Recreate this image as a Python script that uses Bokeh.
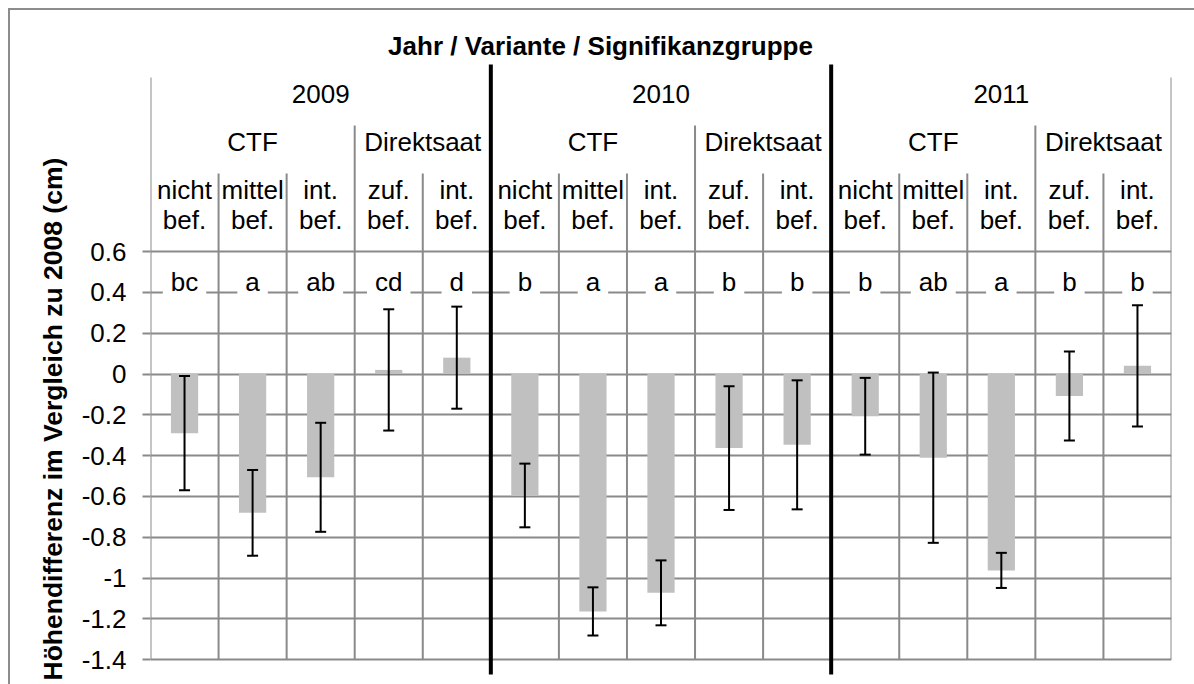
from bokeh.plotting import figure
from bokeh.models import Range1d, FixedTicker, Whisker, ColumnDataSource, TeeHead, PrintfTickFormatter, Title
from bokeh.core.properties import value
from bokeh.embed import file_html
from bokeh.resources import INLINE

# ---------------- data ----------------
years = ["2009", "2010", "2011"]
variants = ["CTF", "Direktsaat"]
variant_sizes = [3, 2]
sub_line1 = ["nicht", "mittel", "int.", "zuf.", "int.",
             "nicht", "mittel", "int.", "zuf.", "int.",
             "nicht", "mittel", "int.", "zuf.", "int."]
sub_line2 = ["bef."] * 15
means = [-0.29, -0.68, -0.506, 0.02, 0.08,
         -0.595, -1.163, -1.072, -0.363, -0.347,
         -0.207, -0.41, -0.962, -0.108, 0.04]
errors = [0.28, 0.21, 0.267, 0.297, 0.25,
          0.156, 0.118, 0.159, 0.303, 0.316,
          0.188, 0.417, 0.086, 0.218, 0.297]
letters = ["bc", "a", "ab", "cd", "d",
           "b", "a", "a", "b", "b",
           "b", "ab", "a", "b", "b"]
y_ticks = [-1.4, -1.2, -1.0, -0.8, -0.6, -0.4, -0.2, 0.0, 0.2, 0.4, 0.6]
title_text = "Jahr / Variante / Signifikanzgruppe"
y_label = "Höhendifferenz im Vergleich zu 2008 (cm)"

# ---------------- layout constants ----------------
W, H = 1194, 684
FRAME_LEFT, FRAME_RIGHT = 150, 1171        # page px
Y_ZERO, PX_PER_UNIT = 373.5, 204.15        # page px of value 0, px per unit
FONT = "Liberation Sans"
FS = "26px"
GRID = "#8a8a8a"
BORDER = "#8c8c8c"

def yv(page_y):
    return (Y_ZERO - page_y) / PX_PER_UNIT

n = len(means)
cat_w = (FRAME_RIGHT - FRAME_LEFT) / n

def xv(page_x):
    return (page_x - FRAME_LEFT) / cat_w

border_css = {
    "background-image": f"linear-gradient({BORDER},{BORDER}), linear-gradient({BORDER},{BORDER})",
    "background-size": "100% 2px, 2px 100%",
    "background-position": "8px 8px, 8px 8px",
    "background-repeat": "no-repeat",
}

p = figure(width=W, height=H, output_backend="svg", toolbar_location=None,
           x_range=Range1d(0, n), y_range=Range1d(yv(H), yv(0)),
           x_axis_location=None, y_axis_location="left",
           min_border_left=FRAME_LEFT, min_border_right=W - FRAME_RIGHT,
           min_border_top=0, min_border_bottom=0,
           styles=border_css)
p.background_fill_alpha = 0
p.border_fill_alpha = 0
p.outline_line_color = None

ticker = FixedTicker(ticks=y_ticks, minor_ticks=[])
p.yaxis.ticker = ticker
p.yaxis.formatter = PrintfTickFormatter(format="%g")
p.yaxis.axis_line_color = None
p.yaxis.major_tick_line_color = GRID
p.yaxis.major_tick_line_width = 2
p.yaxis.major_tick_out = 8
p.yaxis.major_tick_in = 0
p.yaxis.minor_tick_line_color = None
p.yaxis.major_label_standoff = 16
p.yaxis.major_label_text_font = FONT
p.yaxis.major_label_text_font_size = FS
p.yaxis.major_label_text_color = "black"
p.xgrid.visible = False
p.ygrid.ticker = ticker
p.ygrid.grid_line_color = GRID
p.ygrid.grid_line_width = 2

y_bottom = y_ticks[0]

# ---------------- boundary lines ----------------
year_size = sum(variant_sizes)
year_bounds, thick_bounds, group_bounds = [], [], []
for yi in range(len(years) + 1):
    b = yi * year_size
    if yi in (0, len(years)):
        year_bounds.append(b)
    else:
        thick_bounds.append(b)
for yi in range(len(years)):
    acc = yi * year_size
    for vs in variant_sizes[:-1]:
        acc += vs
        group_bounds.append(acc)
all_b = set(year_bounds + thick_bounds + group_bounds)
sub_bounds = [i for i in range(n + 1) if i not in all_b]

p.segment(x0=sub_bounds, x1=sub_bounds, y0=[yv(173)] * len(sub_bounds), y1=[y_bottom] * len(sub_bounds),
          line_color=GRID, line_width=2)
p.segment(x0=group_bounds, x1=group_bounds, y0=[yv(125)] * len(group_bounds), y1=[y_bottom] * len(group_bounds),
          line_color=GRID, line_width=2)
p.segment(x0=year_bounds, x1=year_bounds, y0=[yv(77)] * len(year_bounds), y1=[y_bottom] * len(year_bounds),
          line_color=GRID, line_width=2)

# ---------------- bars & error bars ----------------
xs = [i + 0.5 for i in range(n)]
src = ColumnDataSource(dict(x=xs, top=means,
                            upper=[m + e for m, e in zip(means, errors)],
                            lower=[m - e for m, e in zip(means, errors)]))
p.vbar(x="x", top="top", bottom=0, width=0.4, source=src, fill_color="#c0c0c0", line_color=None)
wh = Whisker(source=src, base="x", upper="upper", lower="lower", line_color="black", line_width=2,
             upper_head=TeeHead(size=11, line_color="black", line_width=2),
             lower_head=TeeHead(size=11, line_color="black", line_width=2))
wh.level = "annotation"
p.add_layout(wh)

p.segment(x0=thick_bounds, x1=thick_bounds, y0=[yv(64)] * len(thick_bounds), y1=[yv(674)] * len(thick_bounds),
          line_color="black", line_width=4)

# ---------------- header texts ----------------
common = dict(text_font=value(FONT), text_font_size=FS, text_color="black", text_align="center",
              text_baseline="middle")
p.text(x=[xv(600)], y=[yv(45)], text=[title_text], text_font_style="bold", **common)
p.text(x=[yi * year_size + year_size / 2 for yi in range(len(years))], y=[yv(93)] * len(years),
       text=years, **common)
gx, gt = [], []
for yi in range(len(years)):
    acc = yi * year_size
    for v, vs in zip(variants, variant_sizes):
        gx.append(acc + vs / 2)
        gt.append(v)
        acc += vs
p.text(x=gx, y=[yv(141)] * len(gx), text=gt, **common)
p.text(x=xs, y=[yv(189)] * n, text=sub_line1, **common)
p.text(x=xs, y=[yv(219)] * n, text=sub_line2, **common)
p.text(x=xs, y=[yv(281)] * n, text=letters, background_fill_color="white", padding=8, **common)

# ---------------- y-axis title (as a left-side title, aligned from the bottom) ----------------
ytitle = Title(text=y_label, align="left", offset=4, standoff=22,
               text_font=FONT, text_font_size="26.5px", text_font_style="bold", text_color="black")
p.add_layout(ytitle, "left")

open("out.html", "w").write(file_html(p, INLINE))
